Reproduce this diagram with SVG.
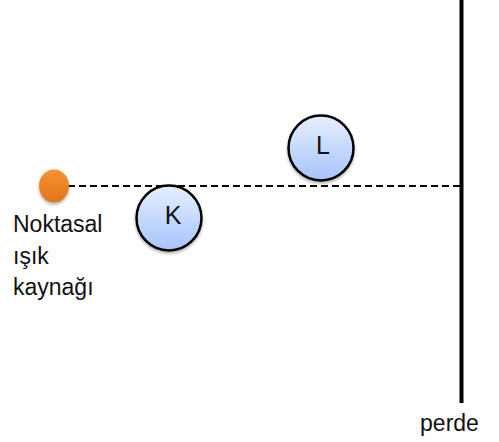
<svg xmlns="http://www.w3.org/2000/svg" width="499" height="442" viewBox="0 0 499 442">
<style>
.lbl{font-family:"Liberation Sans","Open Sans",Arial,sans-serif;font-size:23px;fill:#111}
.big{font-size:25px}
.ball{stroke:#000;stroke-width:2.5;fill:url(#blue)}
</style>
<defs>
<linearGradient id="blue" x1="0" y1="0" x2="0" y2="1">
<stop offset="0" stop-color="#e6efff"/>
<stop offset="1" stop-color="#a6c4fb"/>
</linearGradient>
<linearGradient id="orange" x1="0" y1="0" x2="0" y2="1">
<stop offset="0" stop-color="#f7922c"/>
<stop offset="1" stop-color="#e0761c"/>
</linearGradient>
<filter id="sh" x="-30%" y="-30%" width="160%" height="160%">
<feDropShadow dx="0" dy="2" stdDeviation="1.5" flood-color="#000" flood-opacity="0.3"/>
</filter>
</defs>
<rect width="499" height="442" fill="#fff"/>
<g id="connectors">
<line x1="68" y1="186" x2="462" y2="186" stroke="#000" stroke-width="2" stroke-dasharray="7,4"/>
</g>
<g id="perde">
<line x1="461.5" y1="0" x2="461.5" y2="403" stroke="#000" stroke-width="4"/>
<text class="lbl" x="449.5" y="431" text-anchor="middle">perde</text>
</g>
<g id="source">
<ellipse cx="54" cy="186" rx="15" ry="16.5" fill="url(#orange)" filter="url(#sh)"/>
<text class="lbl" x="13" y="232">Noktasal</text>
<text class="lbl" x="13" y="264">ışık</text>
<text class="lbl" x="13" y="295">kaynağı</text>
</g>
<g id="K">
<circle class="ball" cx="169" cy="218" r="32.5" filter="url(#sh)"/>
<text class="lbl big" x="173" y="224" text-anchor="middle">K</text>
</g>
<g id="L">
<circle class="ball" cx="321" cy="148" r="32.5" filter="url(#sh)"/>
<text class="lbl big" x="323" y="154" text-anchor="middle">L</text>
</g>
</svg>
